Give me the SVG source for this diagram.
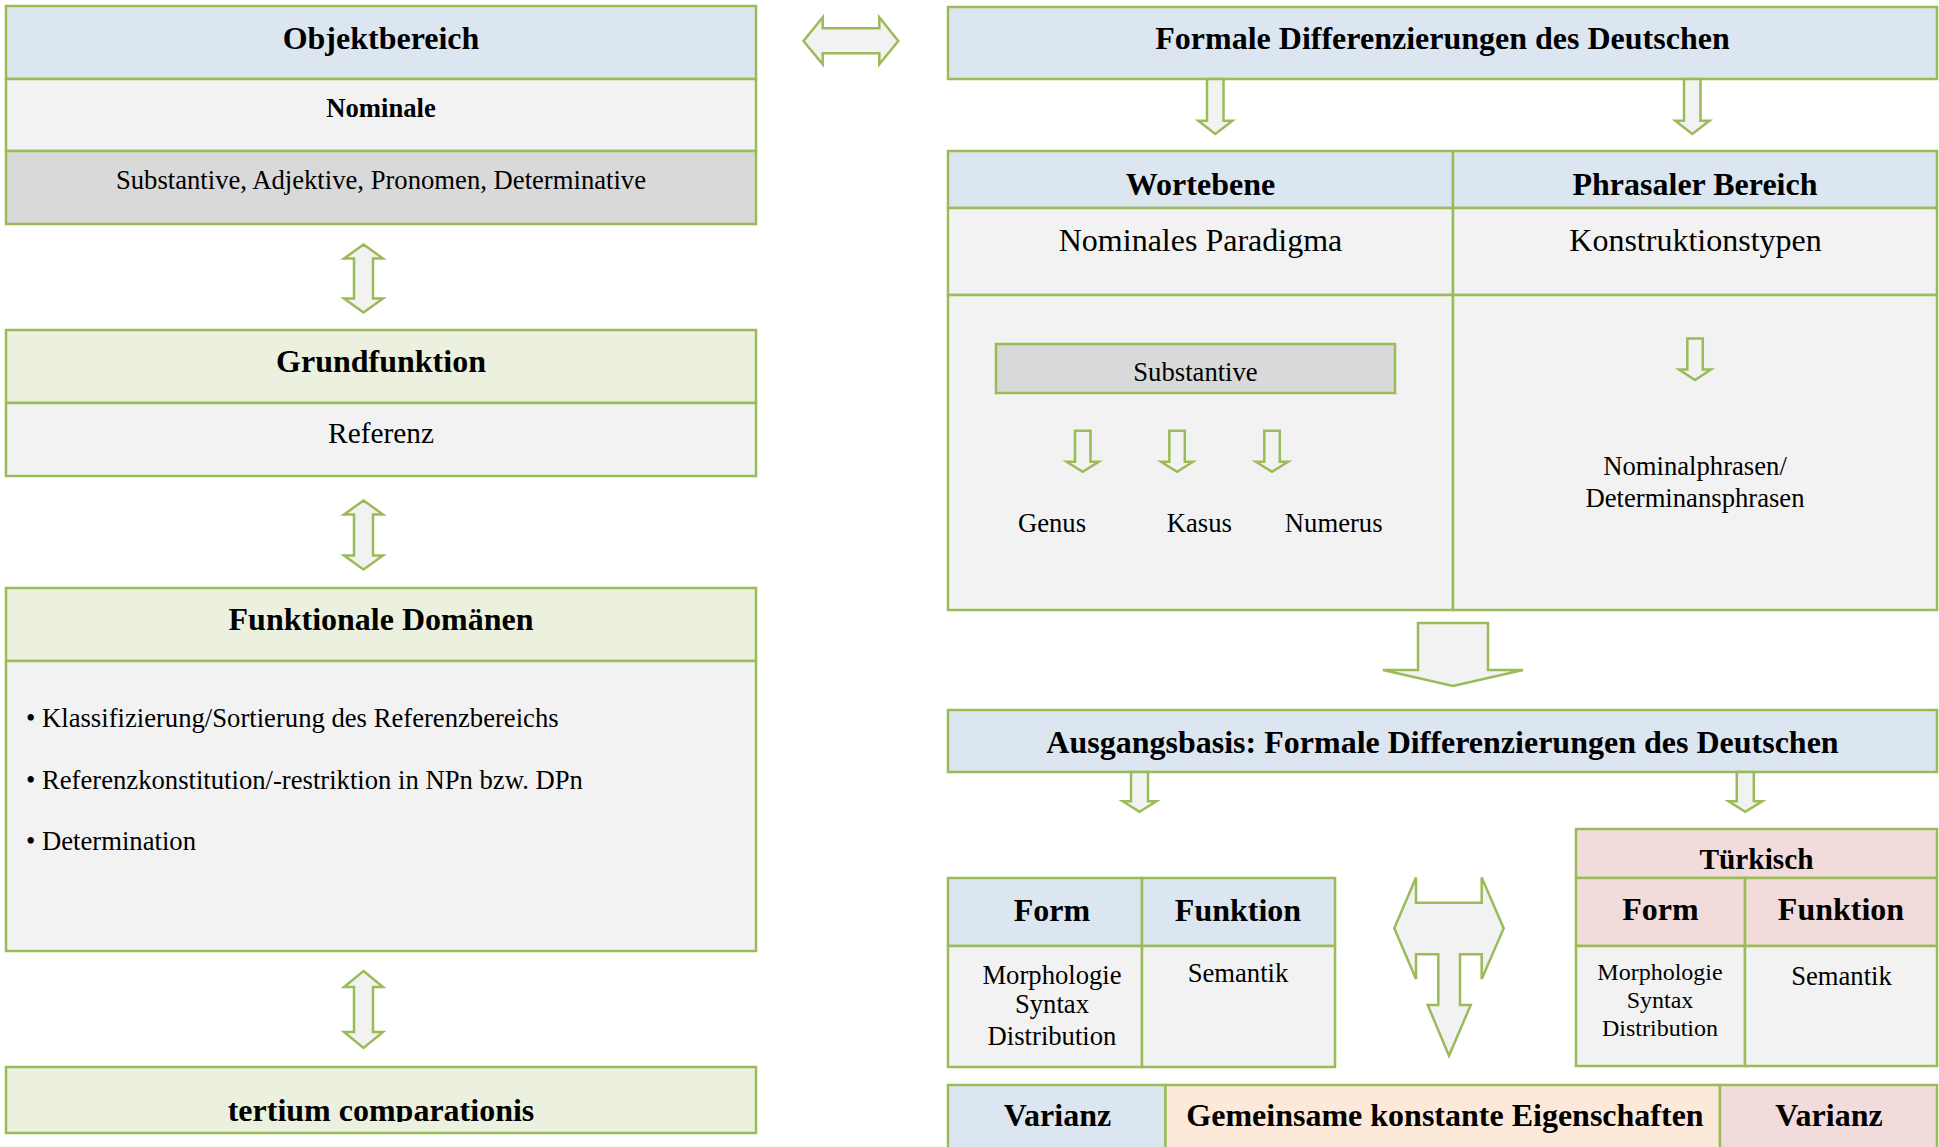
<svg xmlns="http://www.w3.org/2000/svg" width="1939" height="1147" viewBox="0 0 1939 1147">
<style>
  .b { stroke: #9BBB59; stroke-width: 2.5; }
  .blue { fill: #DCE6F1; }
  .green { fill: #EBF1DE; }
  .light { fill: #F2F2F2; }
  .gray { fill: #D9D9D9; }
  .pink { fill: #F2DCDB; }
  .peach { fill: #FDE9D9; }
  .arr { fill: #F2F2F2; stroke: #9BBB59; stroke-width: 2.5; stroke-linejoin: miter; }
  text { font-family: "Liberation Serif", "Times New Roman", serif; fill: #000; text-anchor: middle; }
  .h { font-weight: bold; font-size: 32px; }
  .h2 { font-weight: bold; font-size: 26.67px; }
  .h3 { font-weight: bold; font-size: 29.33px; }
  .t { font-size: 26.67px; }
  .t32 { font-size: 32px; }
  .t29 { font-size: 29.33px; }
  .t24 { font-size: 24px; }
  .l { text-anchor: start; }
</style>
<defs>
  <clipPath id="clipTert"><rect x="0" y="1060" width="770" height="62"/></clipPath>
</defs>
<rect x="0" y="0" width="1939" height="1147" fill="#FFFFFF"/>

<g id="objektbereich">
  <rect class="b blue" x="6" y="6" width="750" height="73"/>
  <rect class="b light" x="6" y="79" width="750" height="72"/>
  <rect class="b gray" x="6" y="151" width="750" height="73"/>
  <text class="h" x="381" y="48.5">Objektbereich</text>
  <text class="h2" x="381" y="116.5">Nominale</text>
  <text class="t" x="381" y="188.5">Substantive, Adjektive, Pronomen, Determinative</text>
</g>

<g id="grundfunktion">
  <rect class="b green" x="6" y="330" width="750" height="73"/>
  <rect class="b light" x="6" y="403" width="750" height="73"/>
  <text class="h" x="381" y="371.5">Grundfunktion</text>
  <text class="t29" x="381" y="443">Referenz</text>
</g>

<g id="funktionale-domaenen">
  <rect class="b green" x="6" y="588" width="750" height="73"/>
  <rect class="b light" x="6" y="661" width="750" height="290"/>
  <text class="h" x="381" y="630">Funktionale Domänen</text>
  <text class="t l" x="26" y="727">• Klassifizierung/Sortierung des Referenzbereichs</text>
  <text class="t l" x="26" y="788.5">• Referenzkonstitution/-restriktion in NPn bzw. DPn</text>
  <text class="t l" x="26" y="850">• Determination</text>
</g>

<g id="tertium">
  <rect class="b green" x="6" y="1067" width="750" height="66"/>
  <text class="h" x="381" y="1120.5" clip-path="url(#clipTert)">tertium comparationis</text>
</g>

<g id="formale-differenzierungen">
  <rect class="b blue" x="948" y="7" width="989" height="72"/>
  <text class="h" x="1442.5" y="49">Formale Differenzierungen des Deutschen</text>
</g>

<g id="ebenen-tabelle">
  <rect class="b blue" x="948" y="151" width="505" height="57"/>
  <rect class="b blue" x="1453" y="151" width="484" height="57"/>
  <rect class="b light" x="948" y="208" width="505" height="87"/>
  <rect class="b light" x="1453" y="208" width="484" height="87"/>
  <rect class="b light" x="948" y="295" width="505" height="315"/>
  <rect class="b light" x="1453" y="295" width="484" height="315"/>
  <text class="h" x="1200.5" y="194.5">Wortebene</text>
  <text class="h" x="1695" y="194.5">Phrasaler Bereich</text>
  <text class="t32" x="1200.5" y="250.5">Nominales Paradigma</text>
  <text class="t32" x="1695.5" y="250.5">Konstruktionstypen</text>
</g>

<g id="substantive">
  <rect class="b gray" x="996" y="344" width="399" height="49"/>
  <text class="t" x="1195.5" y="380.5">Substantive</text>
</g>

<g id="genus"><text class="t" x="1052" y="531.5">Genus</text></g>
<g id="kasus"><text class="t" x="1199.3" y="531.5">Kasus</text></g>
<g id="numerus"><text class="t" x="1333.7" y="531.5">Numerus</text></g>

<g id="nominalphrasen">
  <text class="t" x="1695" y="475">Nominalphrasen/</text>
  <text class="t" x="1695" y="506.5">Determinansphrasen</text>
</g>

<g id="ausgangsbasis">
  <rect class="b blue" x="948" y="710" width="989" height="62"/>
  <text class="h" x="1442.5" y="752.5">Ausgangsbasis: Formale Differenzierungen des Deutschen</text>
</g>

<g id="deutsch-form-funktion">
  <rect class="b blue" x="948" y="878" width="194" height="68"/>
  <rect class="b blue" x="1142" y="878" width="193" height="68"/>
  <rect class="b light" x="948" y="946" width="194" height="121"/>
  <rect class="b light" x="1142" y="946" width="193" height="121"/>
  <text class="h" x="1052" y="921">Form</text>
  <text class="h" x="1238" y="921">Funktion</text>
  <text class="t" x="1052" y="983.5">Morphologie</text>
  <text class="t" x="1052" y="1013">Syntax</text>
  <text class="t" x="1052" y="1045">Distribution</text>
  <text class="t" x="1238" y="982">Semantik</text>
</g>

<g id="tuerkisch">
  <rect class="b pink" x="1576" y="829" width="361" height="49"/>
  <rect class="b pink" x="1576" y="878" width="169" height="68"/>
  <rect class="b pink" x="1745" y="878" width="192" height="68"/>
  <rect class="b light" x="1576" y="946" width="169" height="120"/>
  <rect class="b light" x="1745" y="946" width="192" height="120"/>
  <text class="h3" x="1756.5" y="868.5">Türkisch</text>
  <text class="h" x="1660.5" y="920">Form</text>
  <text class="h" x="1841" y="920">Funktion</text>
  <text class="t24" x="1660" y="979.5">Morphologie</text>
  <text class="t24" x="1660" y="1007.5">Syntax</text>
  <text class="t24" x="1660" y="1035.5">Distribution</text>
  <text class="t" x="1841.5" y="985">Semantik</text>
</g>

<g id="vergleich">
  <rect class="b blue" x="948" y="1085" width="217.5" height="70"/>
  <rect class="b peach" x="1165.5" y="1085" width="554.5" height="70"/>
  <rect class="b pink" x="1720" y="1085" width="217" height="70"/>
  <text class="h" x="1057.5" y="1126">Varianz</text>
  <text class="h" x="1445" y="1126">Gemeinsame konstante Eigenschaften</text>
  <text class="h" x="1829" y="1126">Varianz</text>
</g>

<g id="connectors">
  <polygon class="arr" points="363.5,244.5 383,258.5 373,258.5 373,298.5 383,298.5 363.5,312.5 344,298.5 354,298.5 354,258.5 344,258.5"/>
  <polygon class="arr" points="363.5,500.5 383,514.5 373,514.5 373,555.5 383,555.5 363.5,569.5 344,555.5 354,555.5 354,514.5 344,514.5"/>
  <polygon class="arr" points="363.5,971 383,987 373,987 373,1032 383,1032 363.5,1048 344,1032 354,1032 354,987 344,987"/>
  <polygon class="arr" points="803.5,41 822.7,17.3 822.7,28.3 879.3,28.3 879.3,17.3 898.3,41 879.3,64.3 879.3,53.3 822.7,53.3 822.7,64.3"/>
  <polygon class="arr" points="1207,79 1223.5,79 1223.5,120.7 1232.5,120.7 1215.3,134 1198.3,120.7 1207,120.7"/>
  <polygon class="arr" points="1684,79 1700.5,79 1700.5,120.7 1709.5,120.7 1692.3,134 1675.3,120.7 1684,120.7"/>
  <polygon class="arr" points="1075,430.7 1090.5,430.7 1090.5,461.7 1098.7,461.7 1082.7,471.7 1066.7,461.7 1075,461.7"/>
  <polygon class="arr" points="1169.3,430.7 1184.8,430.7 1184.8,461.7 1193,461.7 1177,471.7 1161,461.7 1169.3,461.7"/>
  <polygon class="arr" points="1264.3,430.7 1279.8,430.7 1279.8,461.7 1288,461.7 1272,471.7 1256,461.7 1264.3,461.7"/>
  <polygon class="arr" points="1687.3,338.5 1702.8,338.5 1702.8,369.5 1711,369.5 1695,380 1679,369.5 1687.3,369.5"/>
  <polygon class="arr" points="1418,623 1488,623 1488,670 1523,670 1453,686 1383,670 1418,670"/>
  <polygon class="arr" points="1131,772 1148,772 1148,801.3 1156.5,801.3 1139.5,811.8 1122.8,801.3 1131,801.3"/>
  <polygon class="arr" points="1736.8,772 1753.8,772 1753.8,801.3 1762.3,801.3 1745.3,811.8 1728.6,801.3 1736.8,801.3"/>
  <polygon class="arr" points="1416,877.5 1416,902.7 1481.7,902.7 1481.7,877.5 1503.7,928.3 1481.7,979 1481.7,954.3 1460,954.3 1460,1005 1470.7,1005 1449,1055.7 1427.7,1005 1438.3,1005 1438.3,954.3 1416,954.3 1416,979 1394.3,928.3"/>
</g>
</svg>
